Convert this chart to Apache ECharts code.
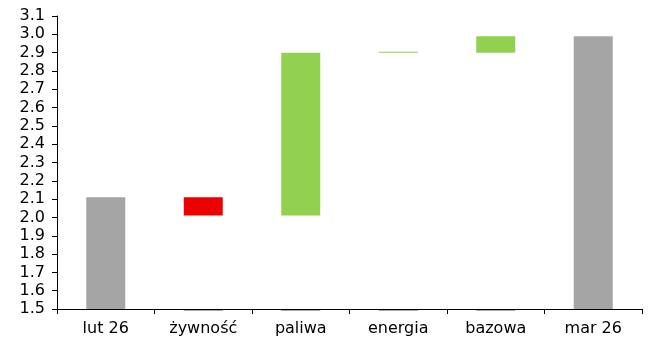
<!DOCTYPE html>
<html>
<head>
<meta charset="utf-8">
<script src="https://cdn.jsdelivr.net/npm/echarts@6/dist/echarts.min.js"></script>
<style>
    html, body { margin: 0; padding: 0; background: #fff; }
    #chart { width: 656px; height: 343px; }
</style>
</head>
<body>
<div id="chart"></div>
<script>
// dane wykresu (waterfall: lut 26 -> mar 26)
const categories = ['lut 26', 'żywność', 'paliwa', 'energia', 'bazowa', 'mar 26'];
const totals   = [2.11, null, null, null, null, 2.99];   // szare słupki
const baseVals = [null, 2.01, 2.01, 2.90, 2.90, null];   // niewidoczna podstawa
const upVals   = [null, null, 0.89, 0.005, 0.09, null];  // wzrost (zielone)
const downVals = [null, 0.10, null, null, null, null];   // spadek (czerwone)
const baseLine = [null, 1.5, 1.5, 1.5, 1.5, null];       // kreski przy osi
const yTicks = { min: 1.5, max: 3.1, step: 0.1 };

const chart = echarts.init(document.getElementById('chart'));

const labelFont = { color: '#000', fontSize: 16, fontFamily: 'DejaVu Sans, sans-serif' };

chart.setOption({
    animation: false,
    grid: { left: 57, right: 14, top: 16, bottom: 34 },
    xAxis: {
        type: 'category',
        data: categories,
        axisLine: { lineStyle: { color: '#000', width: 1 } },
        axisTick: { show: true, length: 5, lineStyle: { color: '#000' } },
        axisLabel: Object.assign({ margin: 12 }, labelFont)
    },
    yAxis: {
        type: 'value',
        min: yTicks.min,
        max: yTicks.max,
        interval: yTicks.step,
        axisLine: { show: true, lineStyle: { color: '#000', width: 1 } },
        axisTick: { show: true, length: 5, lineStyle: { color: '#000' } },
        splitLine: { show: false },
        axisLabel: Object.assign({ margin: 12, formatter: v => v.toFixed(1) }, labelFont)
    },
    series: [
        {
            name: 'suma',
            type: 'bar',
            stack: 'w',
            barWidth: '40%',
            data: totals,
            itemStyle: { color: '#a5a5a5' }
        },
        {
            name: 'podstawa',
            type: 'bar',
            stack: 'w',
            data: baseVals,
            itemStyle: { color: 'transparent' }
        },
        {
            name: 'spadek',
            type: 'bar',
            stack: 'w',
            data: downVals,
            itemStyle: { color: '#ee0000' }
        },
        {
            name: 'wzrost',
            type: 'bar',
            stack: 'w',
            data: upVals,
            itemStyle: { color: '#92d050' }
        },
        {
            // cienkie kreski pod osią dla słupków pośrednich
            name: 'linia',
            type: 'custom',
            data: baseLine.map((v, i) => [i, v]),
            clip: false,
            z: 1,
            renderItem: function (params, api) {
                if (api.value(1) == null || isNaN(api.value(1))) return;
                const p = api.coord([api.value(0), api.value(1)]);
                const w = api.size([1, 0])[0] * 0.4;
                return {
                    type: 'line',
                    shape: { x1: p[0] - w / 2, y1: p[1] + 1.5, x2: p[0] + w / 2, y2: p[1] + 1.5 },
                    style: { stroke: '#a8a8a8', lineWidth: 1 }
                };
            }
        }
    ]
});
</script>
</body>
</html>
